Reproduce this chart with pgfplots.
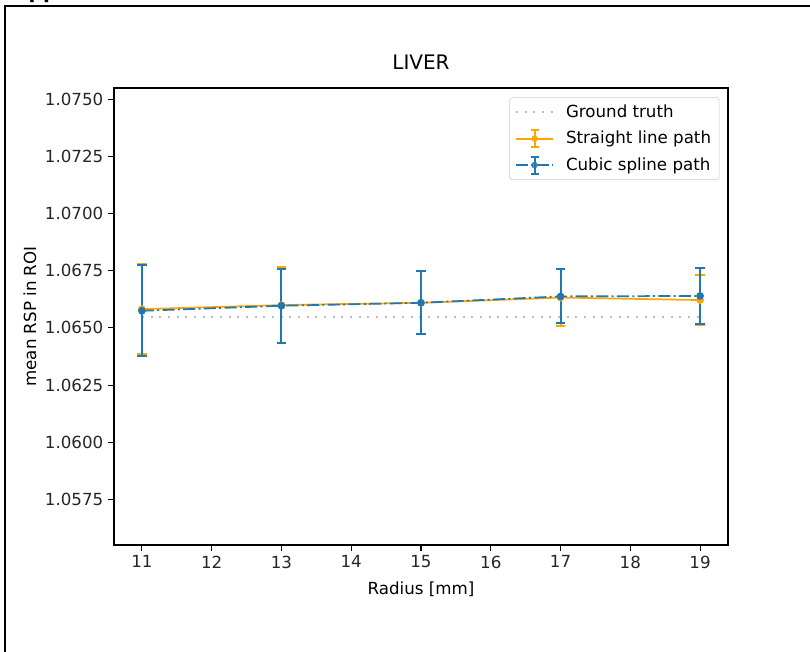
\documentclass[border=0pt]{standalone}
\usepackage{pgfplots}
\usepackage{pgfplotstable}
\pgfplotsset{compat=1.18}
\usepackage{fontspec}
\setmainfont{DejaVu Sans}

\definecolor{mplorange}{HTML}{FFA500}
\definecolor{mplblue}{HTML}{1F77B4}
\definecolor{gtgray}{HTML}{BDBDBD}

% radius, mean RSP, std
\pgfplotstableread{
r y e
11 1.06582 0.00198
13 1.06600 0.00166
15 1.06610 0.00138
17 1.06633 0.00123
19 1.06622 0.00109
}\straight
\pgfplotstableread{
r y e
11 1.06575 0.00199
13 1.06597 0.00163
15 1.06610 0.00138
17 1.06638 0.00118
19 1.06640 0.00124
}\cubic

\begin{document}
\begin{tikzpicture}
% axis corner sits at the origin; the page is 810x651 px at 0.75pt per px
\useasboundingbox (-85.5pt,-79.5pt) rectangle (522pt,408.75pt);
% page frame and clipped heading from the document
\draw[line width=1.5pt] (-81.75pt,-100pt) -- (-81.75pt,404.25pt) -- (540pt,404.25pt);
\node[anchor=base west, inner sep=0pt, font=\fontsize{15}{18}\selectfont\bfseries] at (-75.75pt,410pt) {Appendix};

\begin{axis}[
    at={(0,0)}, anchor=south west,
    scale only axis,
    width=460.5pt, height=342.75pt,
    xmin=10.6, xmax=19.4,
    ymin=1.0555, ymax=1.0755,
    xtick={11,12,13,14,15,16,17,18,19},
    ytick={1.0575,1.0600,1.0625,1.0650,1.0675,1.0700,1.0725,1.0750},
    scaled y ticks=false,
    yticklabel style={/pgf/number format/.cd, fixed, fixed zerofill, precision=4},
    /pgf/number format/assume math mode=true,
    tick align=outside,
    xtick pos=bottom, ytick pos=left,
    major tick length=4.5pt,
    tick style={black, line width=0.8pt},
    axis line style={line width=0.8pt},
    tick label style={font=\fontsize{12.5}{15}\selectfont, text=black!85},
    title={LIVER},
    title style={font=\fontsize{15}{18}\selectfont, at={(axis description cs:0.5,1)}, anchor=center, yshift=13pt},
    xlabel={Radius [mm]},
    ylabel={mean RSP in ROI},
    label style={font=\fontsize{12.5}{15}\selectfont},
    xlabel style={at={(axis description cs:0.5,0)}, anchor=center, yshift=-33pt},
    ylabel style={at={(axis description cs:0,0.5)}, anchor=center, yshift=63pt},
    legend style={at={(1,1)}, anchor=north east, xshift=-6.5pt, yshift=-7pt,
        draw=gtgray!80, rounded corners=2pt, fill=white, fill opacity=0.8, text opacity=1,
        font=\fontsize{12.5}{15}\selectfont, row sep=4.8pt, inner xsep=4pt, inner ysep=3.5pt,
        /tikz/every odd column/.append style={column sep=7pt}},
    legend cell align=left,
]
\addplot[gtgray, line width=1.5pt, dash pattern=on 1.5pt off 5pt, forget plot]
    coordinates {(11,1.0655) (19,1.0655)};

\addplot[mplorange, line width=1.3pt, mark=*, mark size=2.2pt, forget plot,
    error bars/.cd, y dir=both, y explicit,
    error bar style={mplorange, line width=1.5pt},
    error mark options={mplorange, rotate=90, mark size=3.5pt, line width=1.5pt},
    ] table[x=r, y=y, y error=e] {\straight};

\addplot[mplblue, line width=1.3pt, dash pattern=on 9pt off 2.5pt on 1.5pt off 2.5pt,
    mark=*, mark size=2.2pt, mark options={solid}, forget plot,
    error bars/.cd, y dir=both, y explicit,
    error bar style={mplblue, line width=1.5pt, solid},
    error mark options={mplblue, rotate=90, mark size=3.5pt, line width=1.5pt, solid},
    ] table[x=r, y=y, y error=e] {\cubic};

\addlegendimage{legend image code/.code={
    \draw[gtgray, line width=1.5pt, dash pattern=on 1.5pt off 5pt] (0pt,0pt) -- (27.75pt,0pt);}}
\addlegendentry{Ground truth}
\addlegendimage{legend image code/.code={
    \draw[mplorange, line width=1.3pt] (0pt,0pt) -- (27.75pt,0pt);
    \draw[mplorange, line width=1.5pt] (13.9pt,-6.4pt) -- (13.9pt,6.4pt);
    \draw[mplorange, line width=1.5pt] (10.9pt,-6.4pt) -- (16.9pt,-6.4pt);
    \draw[mplorange, line width=1.5pt] (10.9pt,6.4pt) -- (16.9pt,6.4pt);
    \fill[mplorange] (13.9pt,0pt) circle (2.2pt);}}
\addlegendentry{Straight line path}
\addlegendimage{legend image code/.code={
    \draw[mplblue, line width=1.3pt, dash pattern=on 9pt off 2.5pt on 1.5pt off 2.5pt] (0pt,0pt) -- (27.75pt,0pt);
    \draw[mplblue, line width=1.5pt] (13.9pt,-6.4pt) -- (13.9pt,6.4pt);
    \draw[mplblue, line width=1.5pt] (10.9pt,-6.4pt) -- (16.9pt,-6.4pt);
    \draw[mplblue, line width=1.5pt] (10.9pt,6.4pt) -- (16.9pt,6.4pt);
    \fill[mplblue] (13.9pt,0pt) circle (2.2pt);}}
\addlegendentry{Cubic spline path}
\end{axis}
\end{tikzpicture}
\end{document}
